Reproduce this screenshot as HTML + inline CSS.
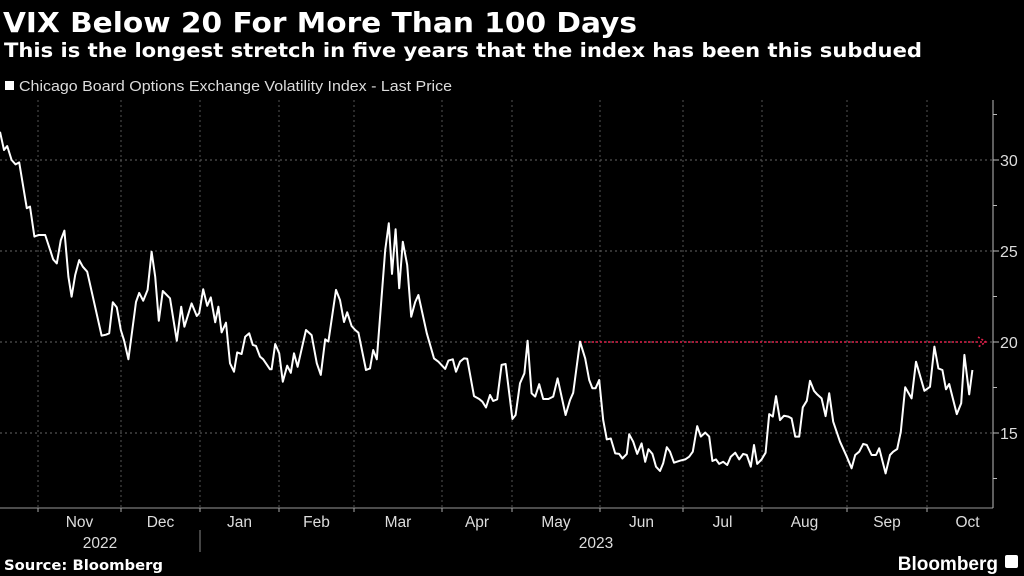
<!DOCTYPE html>
<html><head><meta charset="utf-8">
<style>
body{margin:0;background:#000;width:1024px;height:576px;overflow:hidden;font-family:"Liberation Sans","DejaVu Sans",sans-serif;color:#fff}
svg{position:absolute;left:0;top:0}
</style></head>
<body>
<svg id="chart" width="1024" height="576">
<text x="3" y="32" font-size="28" font-weight="bold" fill="#fff" font-family="DejaVu Sans, sans-serif" textLength="634" lengthAdjust="spacingAndGlyphs">VIX Below 20 For More Than 100 Days</text>
<text x="4" y="57" font-size="19.5" font-weight="bold" fill="#fff" font-family="DejaVu Sans, sans-serif" textLength="918" lengthAdjust="spacingAndGlyphs">This is the longest stretch in five years that the index has been this subdued</text>
<rect x="5" y="81" width="9" height="9" fill="#fff"/>
<text x="19" y="91" font-size="14.5" fill="#ddd" textLength="433" lengthAdjust="spacingAndGlyphs">Chicago Board Options Exchange Volatility Index - Last Price</text>
<g id="grid"></g>
<g id="axes"></g>
<path id="line" fill="none" stroke="#fff" stroke-width="2" stroke-linejoin="round"/>
<text x="4" y="570" font-size="14.5" font-weight="bold" fill="#fff" font-family="DejaVu Sans, sans-serif" textLength="159" lengthAdjust="spacingAndGlyphs">Source: Bloomberg</text>
<text x="998" y="570" text-anchor="end" font-size="19" font-weight="bold" fill="#fff">Bloomberg</text>
<rect x="1005" y="555" width="13" height="13" rx="2" fill="#fff"/>
</svg>
<script>
const days1=[0,1,1.8,2.9,3.9,4.8,6.7,7.5,8.6,9.6,11.3,13.3,14.2,15.2,16.1,17.1,17.9,18.8,19.8,20.7,21.8,25.4,26.5,27.3,28.2,29.2,30.2,31,32.1,34,34.8,35.8,36.9,37.9,38.8,39.7,40.7,42.5,44.2,45.3,46.1,47.9,49.2,49.8,50.8,51.8,52.7,53.8,54.6,55.4,56.5,57.5,58.5,59.3,60.4,61.3,62.3,63.2,64,65,65.8,67.5,67.9,68.8,69.8,70.7,71.8,72.7,73.5,74.4,76.5,77.9,79.2,80.2,81.3,82.1,84,85];
const vals1=[31.55,30.55,30.77,30.0,29.76,29.87,27.35,27.44,25.79,25.88,25.88,24.54,24.32,25.6,26.12,23.59,22.49,23.68,24.5,24.14,23.86,20.35,20.4,20.48,22.18,21.9,20.66,20.1,19.05,22.2,22.7,22.27,22.86,24.96,23.59,21.17,22.8,22.4,20.07,21.94,20.84,22.12,21.43,21.58,22.9,21.99,22.45,21.08,21.94,20.53,21.06,18.83,18.37,19.43,19.34,20.29,20.48,19.84,19.78,19.2,19.05,18.5,18.5,19.89,19.38,17.82,18.7,18.31,19.38,18.64,20.66,20.38,18.83,18.19,20.15,20.02,22.86,22.3];
const days2=[86,86.8,87.9,88.8,89.6,91.5,92.5,93.3,94.2,96.3,97.2,98,98.9,99.8,100.7,101.8,102.8,103.8,104.6,106.7,108.5,109.6,111.3,112.1,113.2,114,115,116,116.8,118.5,119.8,120.6,121.5,122.5,123.3,124.3,125.4,126.4,128.1,128.9,130,131.1,131.9,132.9,133.8,134.8,135.8,137.1,138.3,139.4,141.4,142.5,143.3,145,146.3,147.3,148.1,148.9,149.8,150.8,151.7,152.7,153.8,154.8,155.6,156.7,157.3,158.3,159.3,160.4,161.3,162.1,163.1,164,165,165.8,166.7,167.5];
const vals2=[21.1,21.63,20.88,20.66,20.51,18.46,18.55,19.56,19.05,25.05,26.52,23.74,26.19,22.95,25.51,24.23,21.39,22.2,22.58,20.48,19.1,18.92,18.52,18.98,19.05,18.37,18.92,19.1,19.08,17.03,16.87,16.72,16.4,17.09,16.76,16.85,18.74,18.79,15.77,15.99,17.73,18.28,20.07,17.18,17.0,17.68,16.87,16.87,17.0,18.0,15.99,16.81,17.21,20.02,19.1,17.91,17.46,17.46,17.91,15.71,14.65,14.7,13.88,13.85,13.6,13.85,14.93,14.52,13.85,14.43,13.42,14.11,13.85,13.15,12.91,13.34,14.22,13.97];
const days3=[168.5,170,171.3,172.3,173.2,174.3,175.2,176.3,177.3,178.1,179,179.8,180.8,181.8,182.7,183.8,184.8,185.8,186.7,187.7,188.5,189.3,190.4,191.4,192.3,193.2,194,195,196,197.1,197.9,198.8,199.8,200.7,201.7,202.5,203.5,204.3,205.4,206.4,207.3,208.3,210,211.7,212.9,213.8,214.8,215.8,216.7,217.9,219,219.8,221.4,222.5,223.3,224.3,225.2,226.3,227.9,229,231.1,232.5,233.6,234.6,235.6,236.5,237.3,239.2,240.3,241.1,242.3,243.1];
const vals3=[13.37,13.48,13.55,13.7,13.97,15.38,14.8,15.02,14.8,13.46,13.55,13.3,13.42,13.24,13.7,13.92,13.55,13.85,13.79,13.15,14.34,13.3,13.55,13.92,16.04,15.9,17.03,15.71,15.95,15.9,15.8,14.8,14.8,16.41,16.77,17.87,17.32,17.12,16.9,15.93,17.18,15.62,14.52,13.7,13.06,13.79,13.97,14.4,14.34,13.79,13.79,14.16,12.78,13.79,13.97,14.12,15.07,17.51,16.9,18.92,17.32,17.54,19.75,18.55,18.46,17.4,17.69,16.04,16.63,19.29,17.12,18.46];
const monthLabels=["Nov","Dec","Jan","Feb","Mar","Apr","May","Jun","Jul","Aug","Sep","Oct"];
const monthStarts=[9.5,30.25,50,69.75,88.5,110.5,128,150,170.75,190.5,211.75,231.75,252];
const yTicks=[15,20,25,30];
const yMinor=[12.5,17.5,22.5,27.5,32.5];
const threshold=20, thresholdStart=145, thresholdEnd=246.5;

const NS="http://www.w3.org/2000/svg";
const xS=d=>d*4;
const yS=v=>342-(v-20)*18.2;
const AX=993, TOP=100, BOT=508;
function mk(tag,attrs,parent,text){const e=document.createElementNS(NS,tag);for(const k in attrs)e.setAttribute(k,attrs[k]);if(text!==undefined)e.textContent=text;parent.appendChild(e);return e;}
const grid=document.getElementById('grid'), axes=document.getElementById('axes');
yTicks.forEach(t=>{
  const l=mk('line',{x1:0,x2:AX,y1:yS(t),y2:yS(t),stroke:'#666','stroke-width':1,'stroke-dasharray':'2,3'},grid);
  
  
  mk('line',{x1:AX,x2:AX+6,y1:yS(t),y2:yS(t),stroke:'#bbb'},axes);
  const tx=mk('text',{x:1000,y:yS(t)+6,'font-size':16,fill:'#ddd'},axes,String(t));
  
  
});
yMinor.forEach(t=>{mk('line',{x1:AX,x2:AX+4,y1:yS(t),y2:yS(t),stroke:'#bbb'},axes);});
for(let i=0;i<monthLabels.length;i++){
  const x=xS(monthStarts[i]);
  const g=mk('line',{x1:x,x2:x,y1:TOP,y2:BOT,stroke:'#555','stroke-dasharray':'2,3'},grid);
  
  
  mk('line',{x1:x,x2:x,y1:BOT,y2:BOT+4,stroke:'#aaa'},axes);
  const cx=(x+xS(monthStarts[i+1]))/2;
  const t=mk('text',{x:cx,y:527,'text-anchor':'middle','font-size':15.5,fill:'#ddd'},axes,monthLabels[i]);
  
  
}
mk('line',{x1:0,x2:AX,y1:BOT,y2:BOT,stroke:'#999'},axes);
mk('line',{x1:AX,x2:AX,y1:TOP,y2:BOT,stroke:'#bbb'},axes);
mk('line',{x1:200,x2:200,y1:530,y2:552,stroke:'#888'},axes);
const y1=mk('text',{x:100,y:548,'text-anchor':'middle','font-size':15.5,fill:'#ddd'},axes,'2022');


const y2=mk('text',{x:596,y:548,'text-anchor':'middle','font-size':15.5,fill:'#ddd'},axes,'2023');


const th=mk('line',{x1:xS(thresholdStart),x2:xS(thresholdEnd),y1:yS(threshold),y2:yS(threshold),stroke:'#e0204a','stroke-width':1.6,'stroke-dasharray':'2,2'},axes);


const ar=mk('path',{d:`M${xS(thresholdEnd)-8},${yS(threshold)-5} L${xS(thresholdEnd)},${yS(threshold)} L${xS(thresholdEnd)-8},${yS(threshold)+5}`,fill:'none',stroke:'#e0204a','stroke-width':1.6,'stroke-dasharray':'2,2'},axes);


const days=days1.concat(days2,days3), vals=vals1.concat(vals2,vals3);
let d='';
for(let i=0;i<Math.min(days.length,vals.length);i++){d+=(i?'L':'M')+xS(days[i]).toFixed(1)+','+yS(vals[i]).toFixed(1);}
document.getElementById('line').setAttribute('d',d);
</script>
</body></html>
